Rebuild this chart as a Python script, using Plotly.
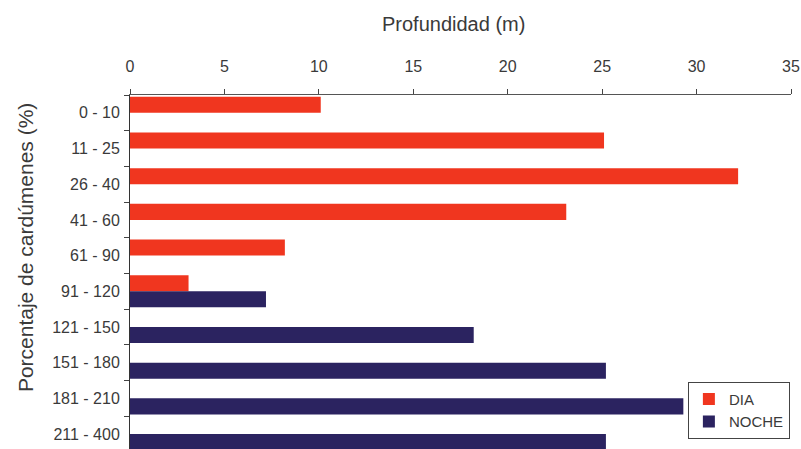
import plotly.graph_objects as go

categories = ["0 - 10", "11 - 25", "26 - 40", "41 - 60", "61 - 90", "91 - 120",
              "121 - 150", "151 - 180", "181 - 210", "211 - 400"]
dia = [10.1, 25.1, 32.2, 23.1, 8.2, 3.1, None, None, None, None]
noche = [None, None, None, None, None, 7.2, 18.2, 25.2, 29.3, 25.2]
x_ticks = [0, 5, 10, 15, 20, 25, 30, 35]

RED = "#f0361f"
NAVY = "#2b2360"
FONT = "Liberation Sans, Arial, sans-serif"
TXT = "#3a3a3a"

fig = go.Figure()
fig.add_trace(go.Bar(y=categories, x=dia, orientation="h", name="DIA",
                     marker=dict(color=RED, line=dict(width=0))))
fig.add_trace(go.Bar(y=categories, x=noche, orientation="h", name="NOCHE",
                     marker=dict(color=NAVY, line=dict(width=0))))

fig.update_layout(
    width=801, height=449,
    margin=dict(l=130, r=10, t=95, b=0),
    paper_bgcolor="white", plot_bgcolor="white",
    barmode="group", bargap=0.1, bargroupgap=0,
    font=dict(family=FONT, size=16, color=TXT),
    showlegend=True,
    legend=dict(x=0.844, y=0.19, xanchor="left", yanchor="top",
                bordercolor="#444444", borderwidth=1, bgcolor="white",
                font=dict(size=15, color=TXT),
                itemwidth=30, tracegroupgap=2),
    xaxis=dict(side="top", range=[0, 35], tickvals=x_ticks,
               ticks="outside", ticklen=5, tickcolor="#444444",
               showline=True, linecolor="#555555", linewidth=1,
               showgrid=False, zeroline=False, ticklabelstandoff=11,
               automargin=False),
    yaxis=dict(type="category", categoryorder="array", categoryarray=categories,
               range=[9.42, -0.5], ticks="outside", tickson="boundaries",
               ticklen=5, tickcolor="#444444",
               showline=True, linecolor="#333333", linewidth=1,
               showgrid=False, zeroline=False, ticklabelstandoff=6,
               automargin=False),
    annotations=[
        dict(text="Profundidad (m)", x=0.49, y=1, yanchor="bottom", yshift=58,
             xref="paper", yref="paper",
             showarrow=False, font=dict(size=20, color=TXT)),
        dict(text="Porcentaje de cardúmenes (%)", textangle=-90,
             x=-0.159, xanchor="center", y=0.57, yanchor="middle",
             xref="paper", yref="paper", showarrow=False,
             font=dict(size=21, color=TXT)),
    ],
)

fig.write_html("out.html", config={"displayModeBar": False},
               post_script="document.body.style.margin='0';")
